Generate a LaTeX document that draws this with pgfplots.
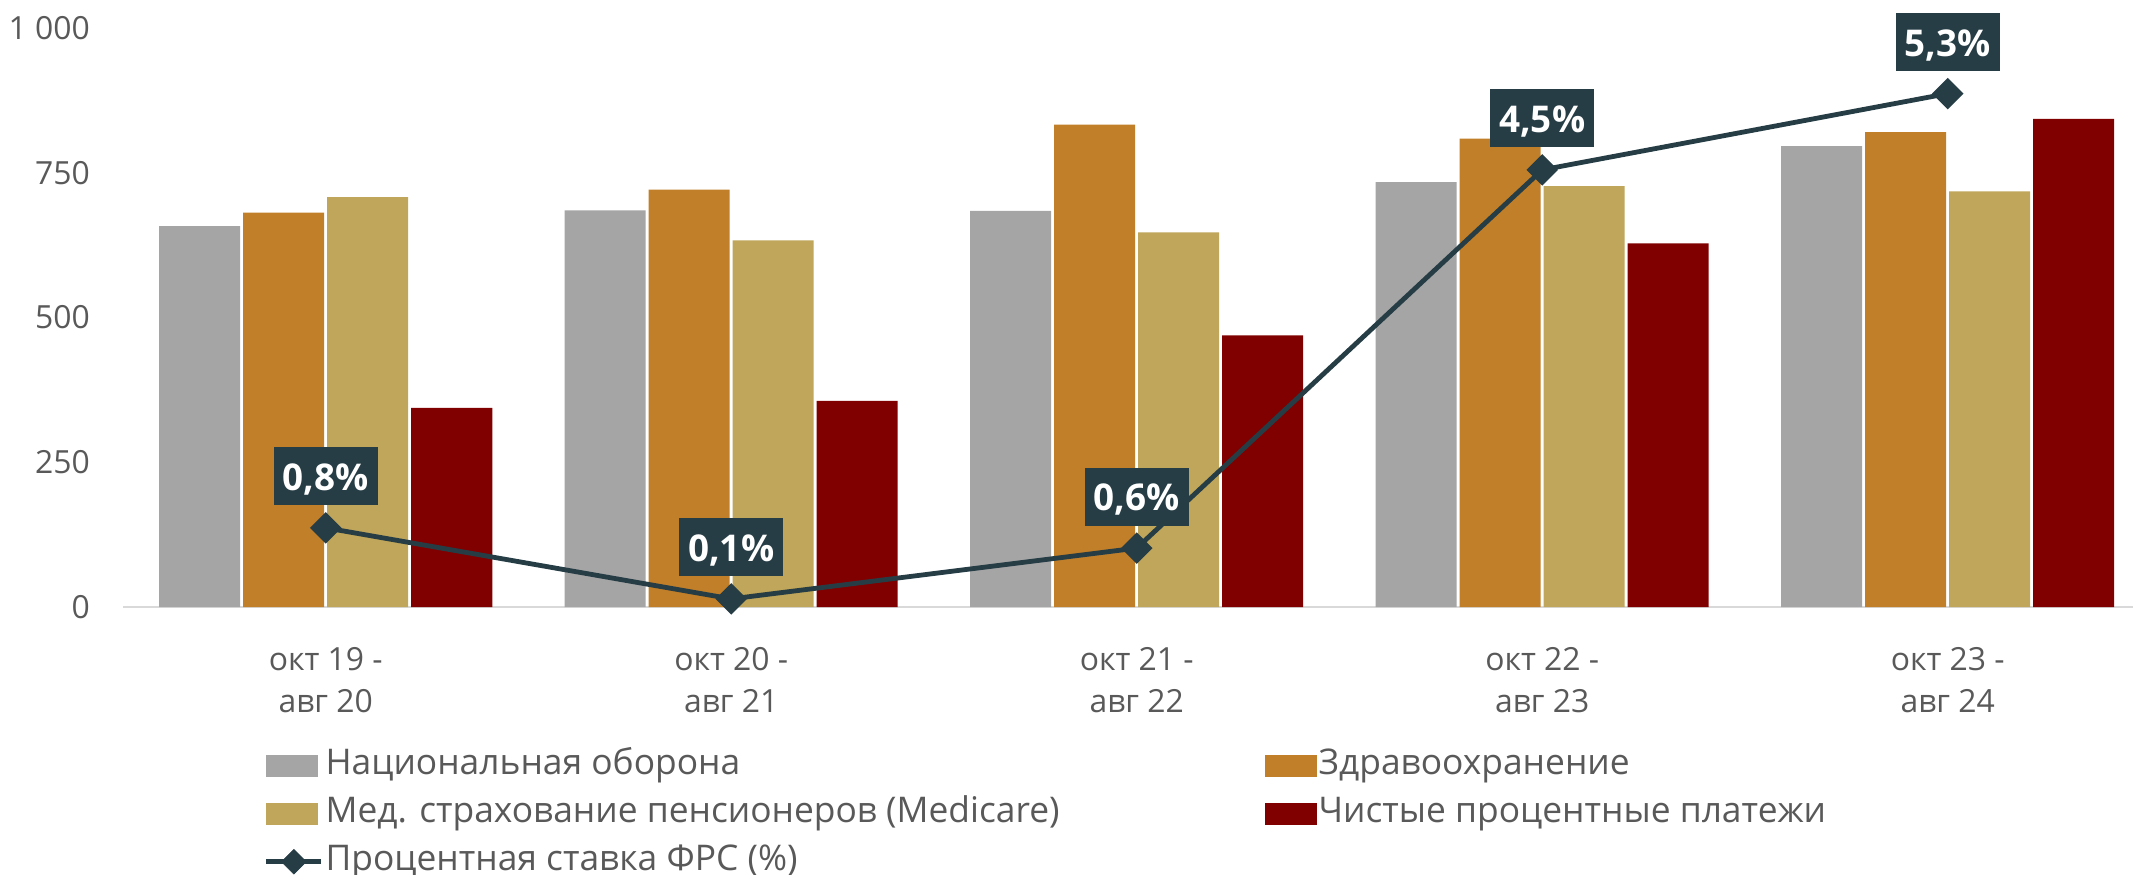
\documentclass[border=0pt]{standalone}
\usepackage{fontspec}
\setmainfont{Open Sans}
\usepackage{pgfplots}
\pgfplotsset{compat=1.18}
\definecolor{cGrey}{HTML}{A5A5A5}
\definecolor{cOrange}{HTML}{C27F29}
\definecolor{cTan}{HTML}{BFA65A}
\definecolor{cRed}{HTML}{800000}
\definecolor{cLine}{HTML}{263D45}
\definecolor{cText}{HTML}{595959}
\definecolor{cAxis}{HTML}{D9D9D9}
\pgfplotsset{
  mybar/.style={fill=#1, draw=none,
    legend image code/.code={\fill[fill=#1] (0bp,-11bp) rectangle (52bp,11bp);}},
  lineleg/.style={legend image code/.code={%
    \draw[cLine, line width=4.5bp] (0bp,0bp) -- (55bp,0bp);
    \fill[cLine, rotate around={45:(27.5bp,0bp)}] (18.7bp,-8.8bp) rectangle (36.3bp,8.8bp);}},
}
\begin{document}
\begin{tikzpicture}
\useasboundingbox (0,0) rectangle (2133bp,875bp);
\clip (0,0) rectangle (2133bp,875bp);
\begin{axis}[
  at={(123bp,268bp)}, anchor=south west,
  scale only axis, width=2010bp, height=579bp,
  xmin=-0.5, xmax=4.457, ymin=0, ymax=1000,
  enlargelimits=false,
  ybar=3bp, bar width=81bp,
  axis lines*=left,
  x axis line style={draw=cAxis, line width=2bp},
  y axis line style={draw=none},
  tick style={draw=none},
  xtick={0,1,2,3,4},
  xticklabels={{окт 19 -\\авг 20},{окт 20 -\\авг 21},{окт 21 -\\авг 22},{окт 22 -\\авг 23},{окт 23 -\\авг 24}},
  xticklabel style={align=center, anchor=north, inner sep=0pt, yshift=-36bp, font=\fontsize{32}{42}\selectfont, text=cText},
  ytick={0,250,500,750,1000},
  yticklabels={0,250,500,750,{1 000}},
  yticklabel style={anchor=east, inner sep=0pt, xshift=-33bp, font=\fontsize{32}{38}\selectfont, text=cText},
  legend columns=2, legend cell align=left,
  legend style={draw=none, fill=none, inner sep=0pt,
    at={(axis description cs:0.0701,-0.2444)}, anchor=north west, row sep=14bp,
    nodes={inner sep=0pt, text height=26bp, text depth=8bp, font=\fontsize{35.5}{42}\selectfont, text=cText},
    /tikz/every odd column/.append style={column sep=2bp}},
]
\addplot[mybar=cGrey] coordinates {(0,658) (1,685) (2,684) (3,734) (4,796)};
\addplot[mybar=cOrange] coordinates {(0,681) (1,721) (2,833) (3,809) (4,820)};
\addplot[mybar=cTan] coordinates {(0,708) (1,633) (2,647) (3,727) (4,718)};
\addplot[mybar=cRed] coordinates {(0,344) (1,356) (2,469) (3,628) (4,843)};
\addlegendimage{lineleg}
\legend{\makebox[939bp][l]{Национальная оборона},Здравоохранение,\makebox[939bp][l]{Мед. страхование пенсионеров (Medicare)},Чистые процентные платежи,Процентная ставка ФРС (\%)}
\end{axis}
\begin{axis}[
  at={(123bp,268bp)}, anchor=south west,
  scale only axis, width=2010bp, height=579bp,
  xmin=-0.5, xmax=4.457, ymin=0, ymax=6,
  enlargelimits=false, hide axis, clip=false,
]
\addplot[cLine, line width=4.8bp, mark=square*, mark size=8.8bp, mark options={rotate=45, solid},
  point meta=explicit symbolic, nodes near coords,
  every node near coord/.append style={fill=cLine, text=white, font=\bfseries\fontsize{37}{44}\selectfont,
    inner xsep=9bp, inner ysep=15bp, text height=28bp, text depth=0bp, anchor=south, yshift=20bp}]
  coordinates {(0,0.82) [0,8\%] (1,0.084) [0,1\%] (2,0.61) [0,6\%] (3,4.53) [4,5\%] (4,5.32) [5,3\%]};
\end{axis}
\end{tikzpicture}
\end{document}
